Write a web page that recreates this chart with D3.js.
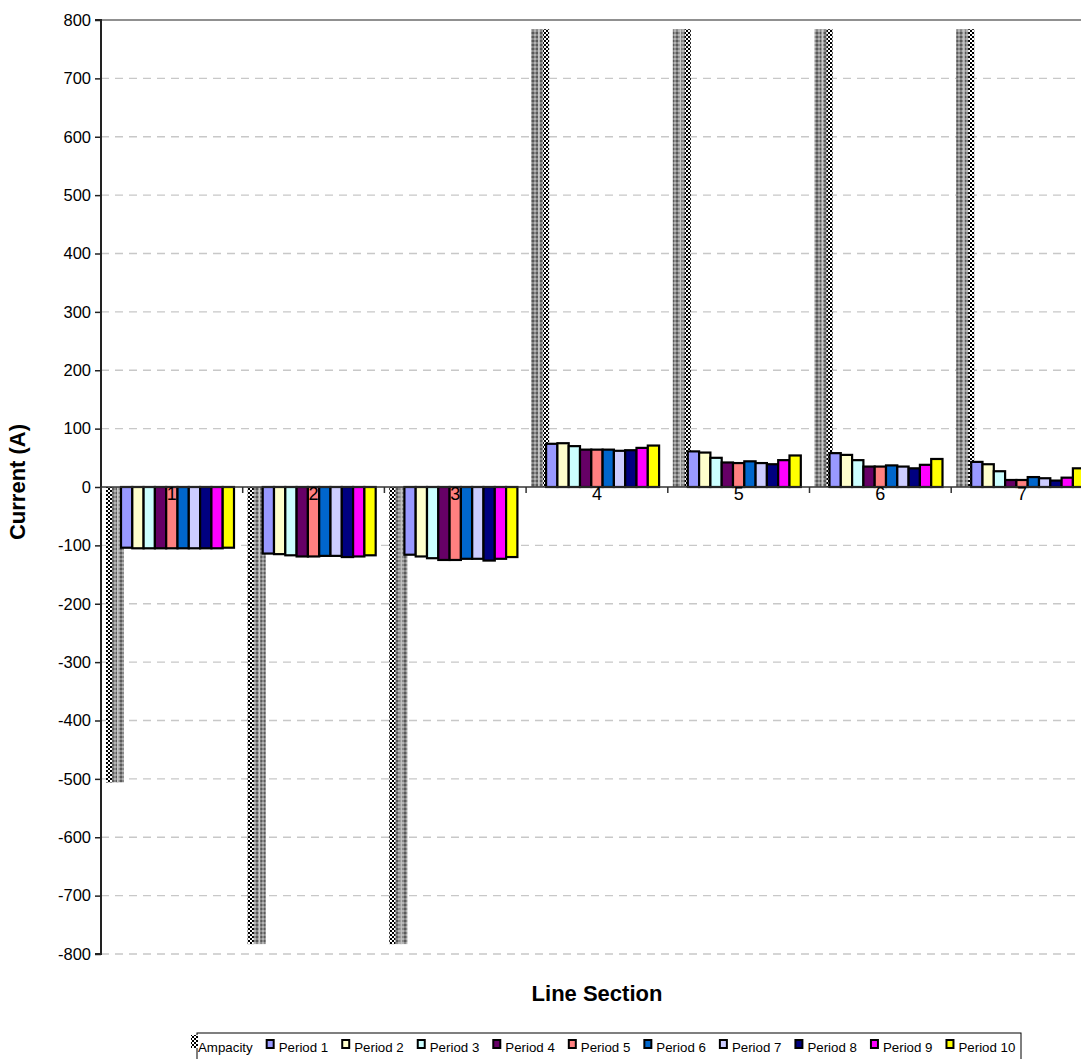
<!DOCTYPE html>
<html><head><meta charset="utf-8">
<script src="https://cdn.jsdelivr.net/npm/d3@7"></script>
<style>
body{margin:0;background:#fff;}
svg{display:block;font-family:"Liberation Sans",Arial,sans-serif;}
</style></head>
<body><svg id="c" width="1081" height="1059"></svg>
<script>
const categories = ["1","2","3","4","5","6","7"];
const seriesNames = ["Ampacity","Period 1","Period 2","Period 3","Period 4","Period 5","Period 6","Period 7","Period 8","Period 9","Period 10"];
const ampacity = [-506,-783,-783,784,784,784,784];
const period1  = [-104,-114,-116,74,61,58,43];
const period2  = [-105,-115,-119,75,59,55,39];
const period3  = [-105,-117,-122,70,50,46,27];
const period4  = [-105,-119,-125,64,42,35,12];
const period5  = [-105,-119,-125,64,41,35,12];
const period6  = [-105,-118,-123,64,44,37,17];
const period7  = [-105,-118,-123,62,41,35,15];
const period8  = [-105,-120,-126,63,39,32,11];
const period9  = [-105,-119,-123,67,46,38,16];
const period10 = [-104,-117,-120,71,54,48,32];
const periods = [period1,period2,period3,period4,period5,period6,period7,period8,period9,period10];
const colors = ["#9999FF","#FFFFCC","#CCFFFF","#660066","#FF8080","#0066CC","#CCCCFF","#000080","#FF00FF","#FFFF00"];
const yTicks = [-800,-700,-600,-500,-400,-300,-200,-100,0,100,200,300,400,500,600,700,800];

(function(){
const svg = d3.select("#c");
const defs = svg.append("defs");
const pc = defs.append("pattern").attr("id","chk").attr("width",4).attr("height",4).attr("patternUnits","userSpaceOnUse");
pc.append("rect").attr("width",4).attr("height",4).attr("fill","#fff");
pc.append("rect").attr("width",2).attr("height",2).attr("fill","#000");
pc.append("rect").attr("x",2).attr("y",2).attr("width",2).attr("height",2).attr("fill","#000");
const pg = defs.append("pattern").attr("id","gry").attr("width",4).attr("height",4).attr("patternUnits","userSpaceOnUse");
pg.append("rect").attr("width",4).attr("height",4).attr("fill","#8a8a8a");
pg.append("rect").attr("width",2).attr("height",2).attr("fill","#5a5a5a");
pg.append("rect").attr("x",2).attr("y",2).attr("width",2).attr("height",2).attr("fill","#b4b4b4");

const pLeft = 101, pTop = 20, pBottom = 954;
const groupW = 141.7;
const x = d3.scaleBand().domain(categories).range([pLeft, pLeft + groupW*categories.length]).padding(0);
const y = d3.scaleLinear().domain([-800,800]).range([pBottom, pTop]);
const xp = d3.scaleBand().domain(d3.range(10)).range([20, 133]).padding(0);

svg.append("g").selectAll("line").data(yTicks.filter(t=>t!==0)).join("line")
  .attr("x1", pLeft).attr("x2", 1081).attr("y1", d=>y(d)).attr("y2", d=>y(d))
  .attr("stroke", d=> d===800 ? "#909090" : "#c8c8c8")
  .attr("stroke-width", d=> d===800 ? 2 : 1.3)
  .attr("stroke-dasharray", d=> d===800 ? null : "8,6");

const ampG = svg.append("g");
categories.forEach((c,i)=>{
  const v = ampacity[i];
  const x0 = x(c) + 5, w = 18;
  const y0 = Math.min(y(v), y(0)), h = Math.abs(y(v)-y(0));
  ampG.append("rect").attr("x",x0).attr("y",y0).attr("width",w).attr("height",h).attr("fill","url(#gry)");
  const cx = v < 0 ? x0 : x0 + w - 6;
  ampG.append("rect").attr("x",cx).attr("y",y0).attr("width",6).attr("height",h).attr("fill","url(#chk)");
  ampG.append("rect").attr("x", v<0 ? x0+11 : x0+7).attr("y",y0).attr("width",1.5).attr("height",h).attr("fill","#c8c8c8");
});

const pgG = svg.append("g");
periods.forEach((arr,j)=>{
  pgG.append("g").selectAll("rect").data(arr).join("rect")
    .attr("x",(d,i)=>x(categories[i]) + xp(j))
    .attr("width", xp.bandwidth())
    .attr("y", d=>Math.min(y(d),y(0)))
    .attr("height", d=>Math.abs(y(d)-y(0)))
    .attr("fill", colors[j]).attr("stroke","#000").attr("stroke-width",2.2);
});

const yAxis = d3.axisLeft(y).tickValues(yTicks).tickSize(6).tickFormat(d=>String(d));
const ya = svg.append("g").attr("transform",`translate(${pLeft},0)`).call(yAxis);
ya.select(".domain").attr("stroke","#222").attr("stroke-width",2).attr("d",`M-6,${pTop}H0V${pBottom}H-6`);
ya.selectAll(".tick line").attr("stroke","#222").attr("stroke-width",1.5);
ya.selectAll(".tick text").attr("font-size",16.5).attr("fill","#000").attr("x",-10).attr("font-family","Liberation Sans, Arial, sans-serif");

const xa = svg.append("g").attr("transform",`translate(0,${y(0)})`);
xa.append("line").attr("x1",pLeft).attr("x2",1081).attr("stroke","#333").attr("stroke-width",1.5);
xa.selectAll("line.tk").data(categories).join("line").attr("class","tk")
  .attr("x1",d=>x(d)).attr("x2",d=>x(d)).attr("y1",0).attr("y2",6).attr("stroke","#333").attr("stroke-width",1.5);
xa.selectAll("text").data(categories).join("text")
  .attr("x",d=>x(d)+x.bandwidth()/2).attr("y",13).attr("text-anchor","middle")
  .attr("font-size",18).attr("fill","#000").text(d=>d);

svg.append("text").attr("transform",`translate(25,482) rotate(-90)`).attr("text-anchor","middle")
  .attr("font-size",22).attr("font-weight","bold").text("Current (A)");
svg.append("text").attr("x",597).attr("y",1001).attr("text-anchor","middle")
  .attr("font-size",22).attr("font-weight","bold").text("Line Section");

const lg = svg.append("g");
lg.append("rect").attr("x",197).attr("y",1033).attr("width",824).attr("height",30).attr("fill","#fff").attr("stroke","#000").attr("stroke-width",1);
lg.append("rect").attr("x",191).attr("y",1035).attr("width",7).attr("height",13).attr("fill","url(#chk)");
let lx = 198;
seriesNames.forEach((n,k)=>{
  let tx = lx;
  if(k>0){
    lg.append("rect").attr("x",lx+1).attr("y",1040).attr("width",7).attr("height",8).attr("fill",colors[k-1]).attr("stroke","#000").attr("stroke-width",2);
    tx = lx + 13;
  }
  const t = lg.append("text").attr("x", tx).attr("y",1052).attr("font-size",13.3).text(n);
  lx = tx + t.node().getComputedTextLength() + 13;
});
})();
</script></body></html>
